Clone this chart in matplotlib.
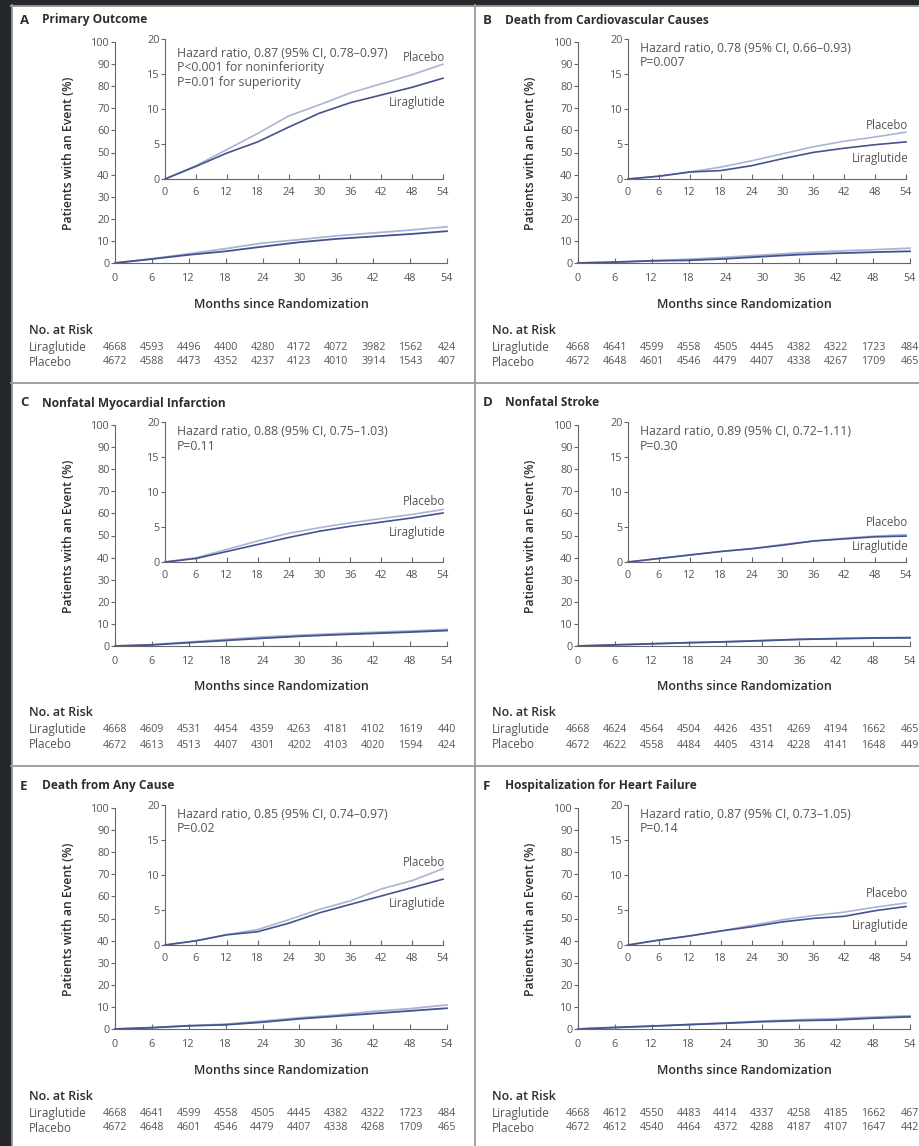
import matplotlib.pyplot as plt
import matplotlib.transforms as mtransforms
from matplotlib.patches import Rectangle
from matplotlib.lines import Line2D

plt.rcParams['font.family'] = ['Open Sans', 'DejaVu Sans']

# months of follow-up
months = [0, 6, 12, 18, 24, 30, 36, 42, 48, 54]
risk_months = [0, 6, 12, 18, 24, 30, 36, 42, 48, 54]

# cumulative incidence (%)
lira_a = [0, 1.8, 3.7, 5.3, 7.4, 9.4, 10.9, 12.0, 13.1, 14.4]
plac_a = [0, 1.9, 4.2, 6.5, 9.0, 10.6, 12.3, 13.6, 14.9, 16.4]
lira_b = [0, 0.4, 1.0, 1.2, 1.9, 2.9, 3.8, 4.4, 4.9, 5.3]
plac_b = [0, 0.4, 1.0, 1.7, 2.6, 3.6, 4.6, 5.4, 6.0, 6.7]
lira_c = [0, 0.5, 1.5, 2.5, 3.5, 4.4, 5.1, 5.7, 6.3, 7.0]
plac_c = [0, 0.6, 1.8, 3.0, 4.1, 4.9, 5.6, 6.2, 6.8, 7.5]
lira_d = [0, 0.5, 1.0, 1.5, 1.9, 2.4, 3.0, 3.3, 3.6, 3.7]
plac_d = [0, 0.5, 1.0, 1.5, 1.9, 2.5, 3.0, 3.4, 3.7, 3.9]
lira_e = [0, 0.6, 1.45, 1.9, 3.1, 4.6, 5.8, 7.0, 8.2, 9.4]
plac_e = [0, 0.6, 1.5, 2.2, 3.6, 5.1, 6.3, 8.0, 9.2, 10.9]
lira_f = [0, 0.7, 1.3, 2.0, 2.6, 3.3, 3.8, 4.1, 4.9, 5.5]
plac_f = [0, 0.7, 1.3, 2.0, 2.8, 3.6, 4.2, 4.7, 5.4, 6.0]

# numbers at risk
risk_lira_a = [4668, 4593, 4496, 4400, 4280, 4172, 4072, 3982, 1562, 424]
risk_plac_a = [4672, 4588, 4473, 4352, 4237, 4123, 4010, 3914, 1543, 407]
risk_lira_b = [4668, 4641, 4599, 4558, 4505, 4445, 4382, 4322, 1723, 484]
risk_plac_b = [4672, 4648, 4601, 4546, 4479, 4407, 4338, 4267, 1709, 465]
risk_lira_c = [4668, 4609, 4531, 4454, 4359, 4263, 4181, 4102, 1619, 440]
risk_plac_c = [4672, 4613, 4513, 4407, 4301, 4202, 4103, 4020, 1594, 424]
risk_lira_d = [4668, 4624, 4564, 4504, 4426, 4351, 4269, 4194, 1662, 465]
risk_plac_d = [4672, 4622, 4558, 4484, 4405, 4314, 4228, 4141, 1648, 449]
risk_lira_e = [4668, 4641, 4599, 4558, 4505, 4445, 4382, 4322, 1723, 484]
risk_plac_e = [4672, 4648, 4601, 4546, 4479, 4407, 4338, 4268, 1709, 465]
risk_lira_f = [4668, 4612, 4550, 4483, 4414, 4337, 4258, 4185, 1662, 467]
risk_plac_f = [4672, 4612, 4540, 4464, 4372, 4288, 4187, 4107, 1647, 442]

letters = ['A', 'B', 'C', 'D', 'E', 'F']
titles = ['Primary Outcome', 'Death from Cardiovascular Causes',
          'Nonfatal Myocardial Infarction', 'Nonfatal Stroke',
          'Death from Any Cause', 'Hospitalization for Heart Failure']
notes = ['Hazard ratio, 0.87 (95% CI, 0.78\u20130.97)\nP<0.001 for noninferiority\nP=0.01 for superiority',
         'Hazard ratio, 0.78 (95% CI, 0.66\u20130.93)\nP=0.007',
         'Hazard ratio, 0.88 (95% CI, 0.75\u20131.03)\nP=0.11',
         'Hazard ratio, 0.89 (95% CI, 0.72\u20131.11)\nP=0.30',
         'Hazard ratio, 0.85 (95% CI, 0.74\u20130.97)\nP=0.02',
         'Hazard ratio, 0.87 (95% CI, 0.73\u20131.05)\nP=0.14']
lira_all = [lira_a, lira_b, lira_c, lira_d, lira_e, lira_f]
plac_all = [plac_a, plac_b, plac_c, plac_d, plac_e, plac_f]
risk_lira_all = [risk_lira_a, risk_lira_b, risk_lira_c, risk_lira_d, risk_lira_e, risk_lira_f]
risk_plac_all = [risk_plac_a, risk_plac_b, risk_plac_c, risk_plac_d, risk_plac_e, risk_plac_f]
# where the curve labels sit in the inset (y in %)
label_plac_y = [17.4, 7.6, 8.6, 5.6, 11.8, 7.4]
label_lira_y = [10.9, 2.9, 4.2, 2.2, 6.0, 2.8]

W, H = 920, 1146
LIRA = '#46528c'
PLAC = '#aab4d8'
TXT = '#555555'
DARK = '#2e2e2e'

fig = plt.figure(figsize=(W / 100, H / 100), dpi=100)
fig.patch.set_facecolor('white')


def fx(px):
    return px / W


def fy(py):
    return 1 - py / H


def add_px_axes(left, top, right, bottom):
    return fig.add_axes([fx(left), fy(bottom), fx(right - left), (bottom - top) / H])


def style_axes(ax, ymax, ystep, xpad, ypad):
    ax.set_xlim(0, 54)
    ax.set_ylim(0, ymax)
    ax.set_xticks(range(0, 55, 6))
    ax.set_yticks(range(0, ymax + 1, ystep))
    for s in ['top', 'right']:
        ax.spines[s].set_visible(False)
    for s in ['left', 'bottom']:
        ax.spines[s].set_color('#666666')
        ax.spines[s].set_linewidth(0.8)
    ax.tick_params(axis='x', direction='in', length=3.5, width=0.8, color='#666666',
                   labelsize=7.8, labelcolor=TXT, pad=xpad)
    ax.tick_params(axis='y', direction='out', length=3, width=0.8, color='#666666',
                   labelsize=7.8, labelcolor=TXT, pad=ypad)
    ax.patch.set_alpha(0)


offsets = [(0, 0), (463, 0), (0, 383), (463, 383), (0, 766), (463, 766)]

for i, (ox, oy) in enumerate(offsets):
    # panel title
    fig.text(fx(ox + 20), fy(oy + 20), letters[i], fontsize=9.5, fontweight='bold',
             color=DARK, va='center')
    fig.text(fx(ox + 42), fy(oy + 20), titles[i], fontsize=8.6, fontweight='bold',
             color=DARK, va='center')

    # main axes, 0-100 %
    ax = add_px_axes(ox + 115, oy + 42, ox + 447, oy + 263)
    style_axes(ax, 100, 10, 7, 1)
    ax.plot(months, plac_all[i], color=PLAC, lw=1.3, clip_on=False)
    ax.plot(months, lira_all[i], color=LIRA, lw=1.3, clip_on=False)

    # inset, 0-20 %
    ins = add_px_axes(ox + 165, oy + 39, ox + 443, oy + 179)
    style_axes(ins, 20, 5, 6, 1)
    ins.plot(months, plac_all[i], color=PLAC, lw=1.2, clip_on=False)
    ins.plot(months, lira_all[i], color=LIRA, lw=1.2, clip_on=False)
    ins.text(54.5, label_plac_y[i], 'Placebo', fontsize=8.3, color=TXT, ha='right', va='center')
    ins.text(54.5, label_lira_y[i], 'Liraglutide', fontsize=8.3, color=TXT, ha='right', va='center')
    top_gap = 8 if i == 0 else 3
    fig.text(fx(ox + 177), fy(oy + 39 + top_gap), notes[i], fontsize=8.8, color=TXT,
             va='top', ha='left', linespacing=1.15)

    # axis titles
    fig.text(fx(ox + 68), fy(oy + 153), 'Patients with an Event (%)', fontsize=8.8,
             fontweight='semibold', color=DARK, rotation=90, ha='center', va='center')
    fig.text(fx(ox + 281), fy(oy + 304), 'Months since Randomization', fontsize=9.0,
             fontweight='semibold', color=DARK, ha='center', va='center')

    # numbers at risk
    fig.text(fx(ox + 29), fy(oy + 330), 'No. at Risk', fontsize=9.0, fontweight='semibold',
             color=DARK, va='center')
    fig.text(fx(ox + 29), fy(oy + 347), 'Liraglutide', fontsize=8.5, color=TXT, va='center')
    fig.text(fx(ox + 29), fy(oy + 362), 'Placebo', fontsize=8.5, color=TXT, va='center')
    trans = mtransforms.blended_transform_factory(ax.transData, fig.transFigure)
    for m, nl, npl in zip(risk_months, risk_lira_all[i], risk_plac_all[i]):
        fig.text(m, fy(oy + 347), str(nl), transform=trans, fontsize=7.7, color=TXT,
                 ha='center', va='center')
        fig.text(m, fy(oy + 362), str(npl), transform=trans, fontsize=7.7, color=TXT,
                 ha='center', va='center')

# page frame: dark scanned border and grey panel dividers
fig.patches.append(Rectangle((0, 0), fx(11), 1, transform=fig.transFigure,
                             color='#24282d', zorder=5))
fig.patches.append(Rectangle((0, fy(5)), 1, 5 / H, transform=fig.transFigure,
                             color='#24282d', zorder=5))
line_kw = dict(transform=fig.transFigure, color='#9a9a9a', lw=1.3, zorder=6)
fig.lines.append(Line2D([fx(11.5), fx(11.5)], [0, fy(5)], **line_kw))
fig.lines.append(Line2D([fx(11), 1], [fy(5.5), fy(5.5)], **line_kw))
fig.lines.append(Line2D([fx(475), fx(475)], [0, fy(5)], **line_kw))
fig.lines.append(Line2D([fx(11), 1], [fy(383), fy(383)], **line_kw))
fig.lines.append(Line2D([fx(11), 1], [fy(766), fy(766)], **line_kw))

plt.savefig('out.png', dpi=100)
